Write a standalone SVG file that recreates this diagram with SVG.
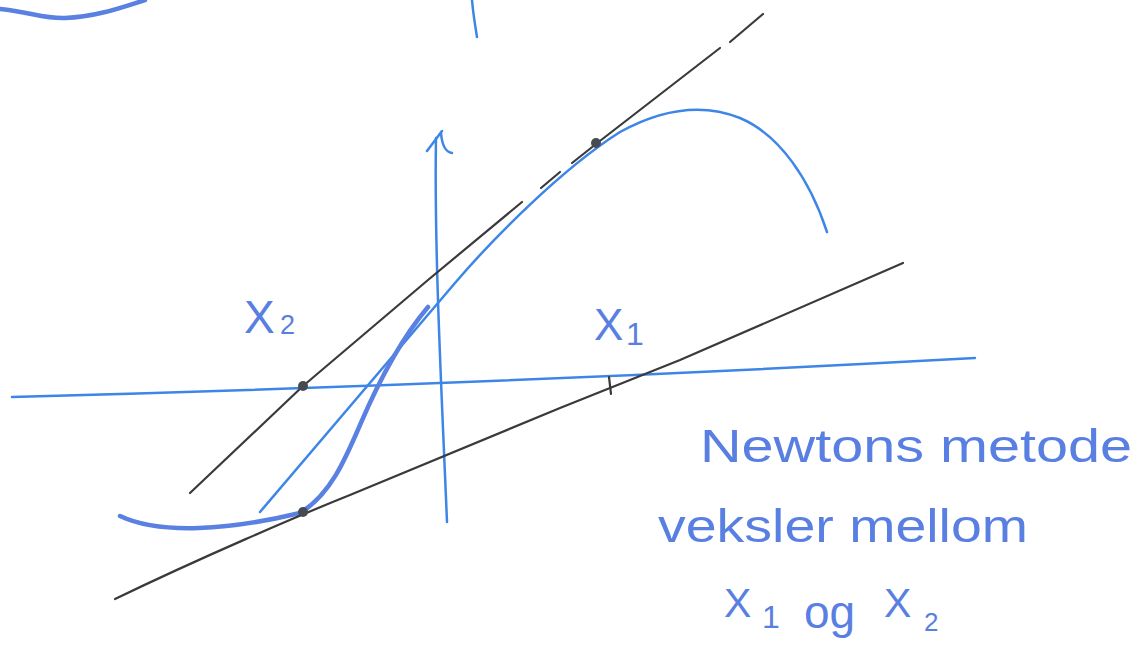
<svg xmlns="http://www.w3.org/2000/svg" width="1144" height="651" viewBox="0 0 1144 651">
<style>
.blue{fill:none;stroke:#3d86e8;stroke-width:2.5;stroke-linecap:round;stroke-linejoin:round}
.thick{fill:none;stroke:#5a80e2;stroke-width:4.5;stroke-linecap:round;stroke-linejoin:round}
.blk{fill:none;stroke:#3a3a3a;stroke-width:2.2;stroke-linecap:round;stroke-linejoin:round}
.dot{fill:#454b50}
.hw{font-family:"Liberation Sans","DejaVu Sans",sans-serif;fill:#5a7fe2}
</style>
<rect width="1144" height="651" fill="#ffffff"/>
<g id="top-fragments">
<path class="thick" d="M0,9 C30,12 45,19 65,18 C95,17 120,8 145,0" stroke-width="3.5"/>
<path class="blue" d="M472,0 C473,12 475,25 477,37"/>
</g>
<g id="axes">
<path class="blue" d="M12,397 Q500,384 975,358"/>
<path class="blue" d="M447,522 C442,400 434,250 436,138"/>
<path class="blue" d="M427,151 L442,131" stroke-width="4.5"/>
<path class="blue" d="M441,133 C442,145 445,152 452,153" stroke-width="3"/>
<path class="blk" d="M609,377 L611,394"/>
</g>
<g id="curve">
<path class="blue" d="M260,512 L455,283 C490,242 560,170 620,132 C660,110 700,102 740,118 C780,135 810,180 827,232" stroke-width="3.2"/>
<path class="thick" d="M120,516 C160,535 230,530 300,513 C330,495 345,460 360,425 C375,390 400,340 428,307"/>
</g>
<g id="tangents">
<path class="blk" d="M190,493 L303,386 L428,280 L522,202"/>
<path class="blk" d="M541,188 L560,172"/>
<path class="blk" d="M572,163 L596,144 L720,48"/>
<path class="blk" d="M730,42 L763,14"/>
<path class="blk" d="M115,599 C200,558 300,515 350,495 L560,408 L680,360 L903,263"/>
</g>
<g id="points">
<circle class="dot" cx="303" cy="386" r="5"/>
<circle class="dot" cx="596" cy="143" r="5"/>
<circle class="dot" cx="303" cy="512" r="5"/>
</g>
<g id="labels">
<text class="hw" font-size="46"><tspan x="244" y="333">X</tspan><tspan x="280" y="334" font-size="27">2</tspan></text>
<text class="hw" font-size="44"><tspan x="594" y="340">X</tspan><tspan x="626" y="345" font-size="32">1</tspan></text>
</g>
<g id="note">
<text class="hw" x="700" y="462" font-size="46" textLength="432" lengthAdjust="spacingAndGlyphs">Newtons metode</text>
<text class="hw" x="658" y="542" font-size="46" textLength="370" lengthAdjust="spacingAndGlyphs">veksler mellom</text>
<text class="hw" font-size="41"><tspan x="724" y="617">X</tspan><tspan x="762" y="628" font-size="32">1</tspan><tspan x="804" y="628" font-size="46">og</tspan><tspan x="884" y="617">X</tspan><tspan x="924" y="631" font-size="26">2</tspan></text>
</g>
</svg>
